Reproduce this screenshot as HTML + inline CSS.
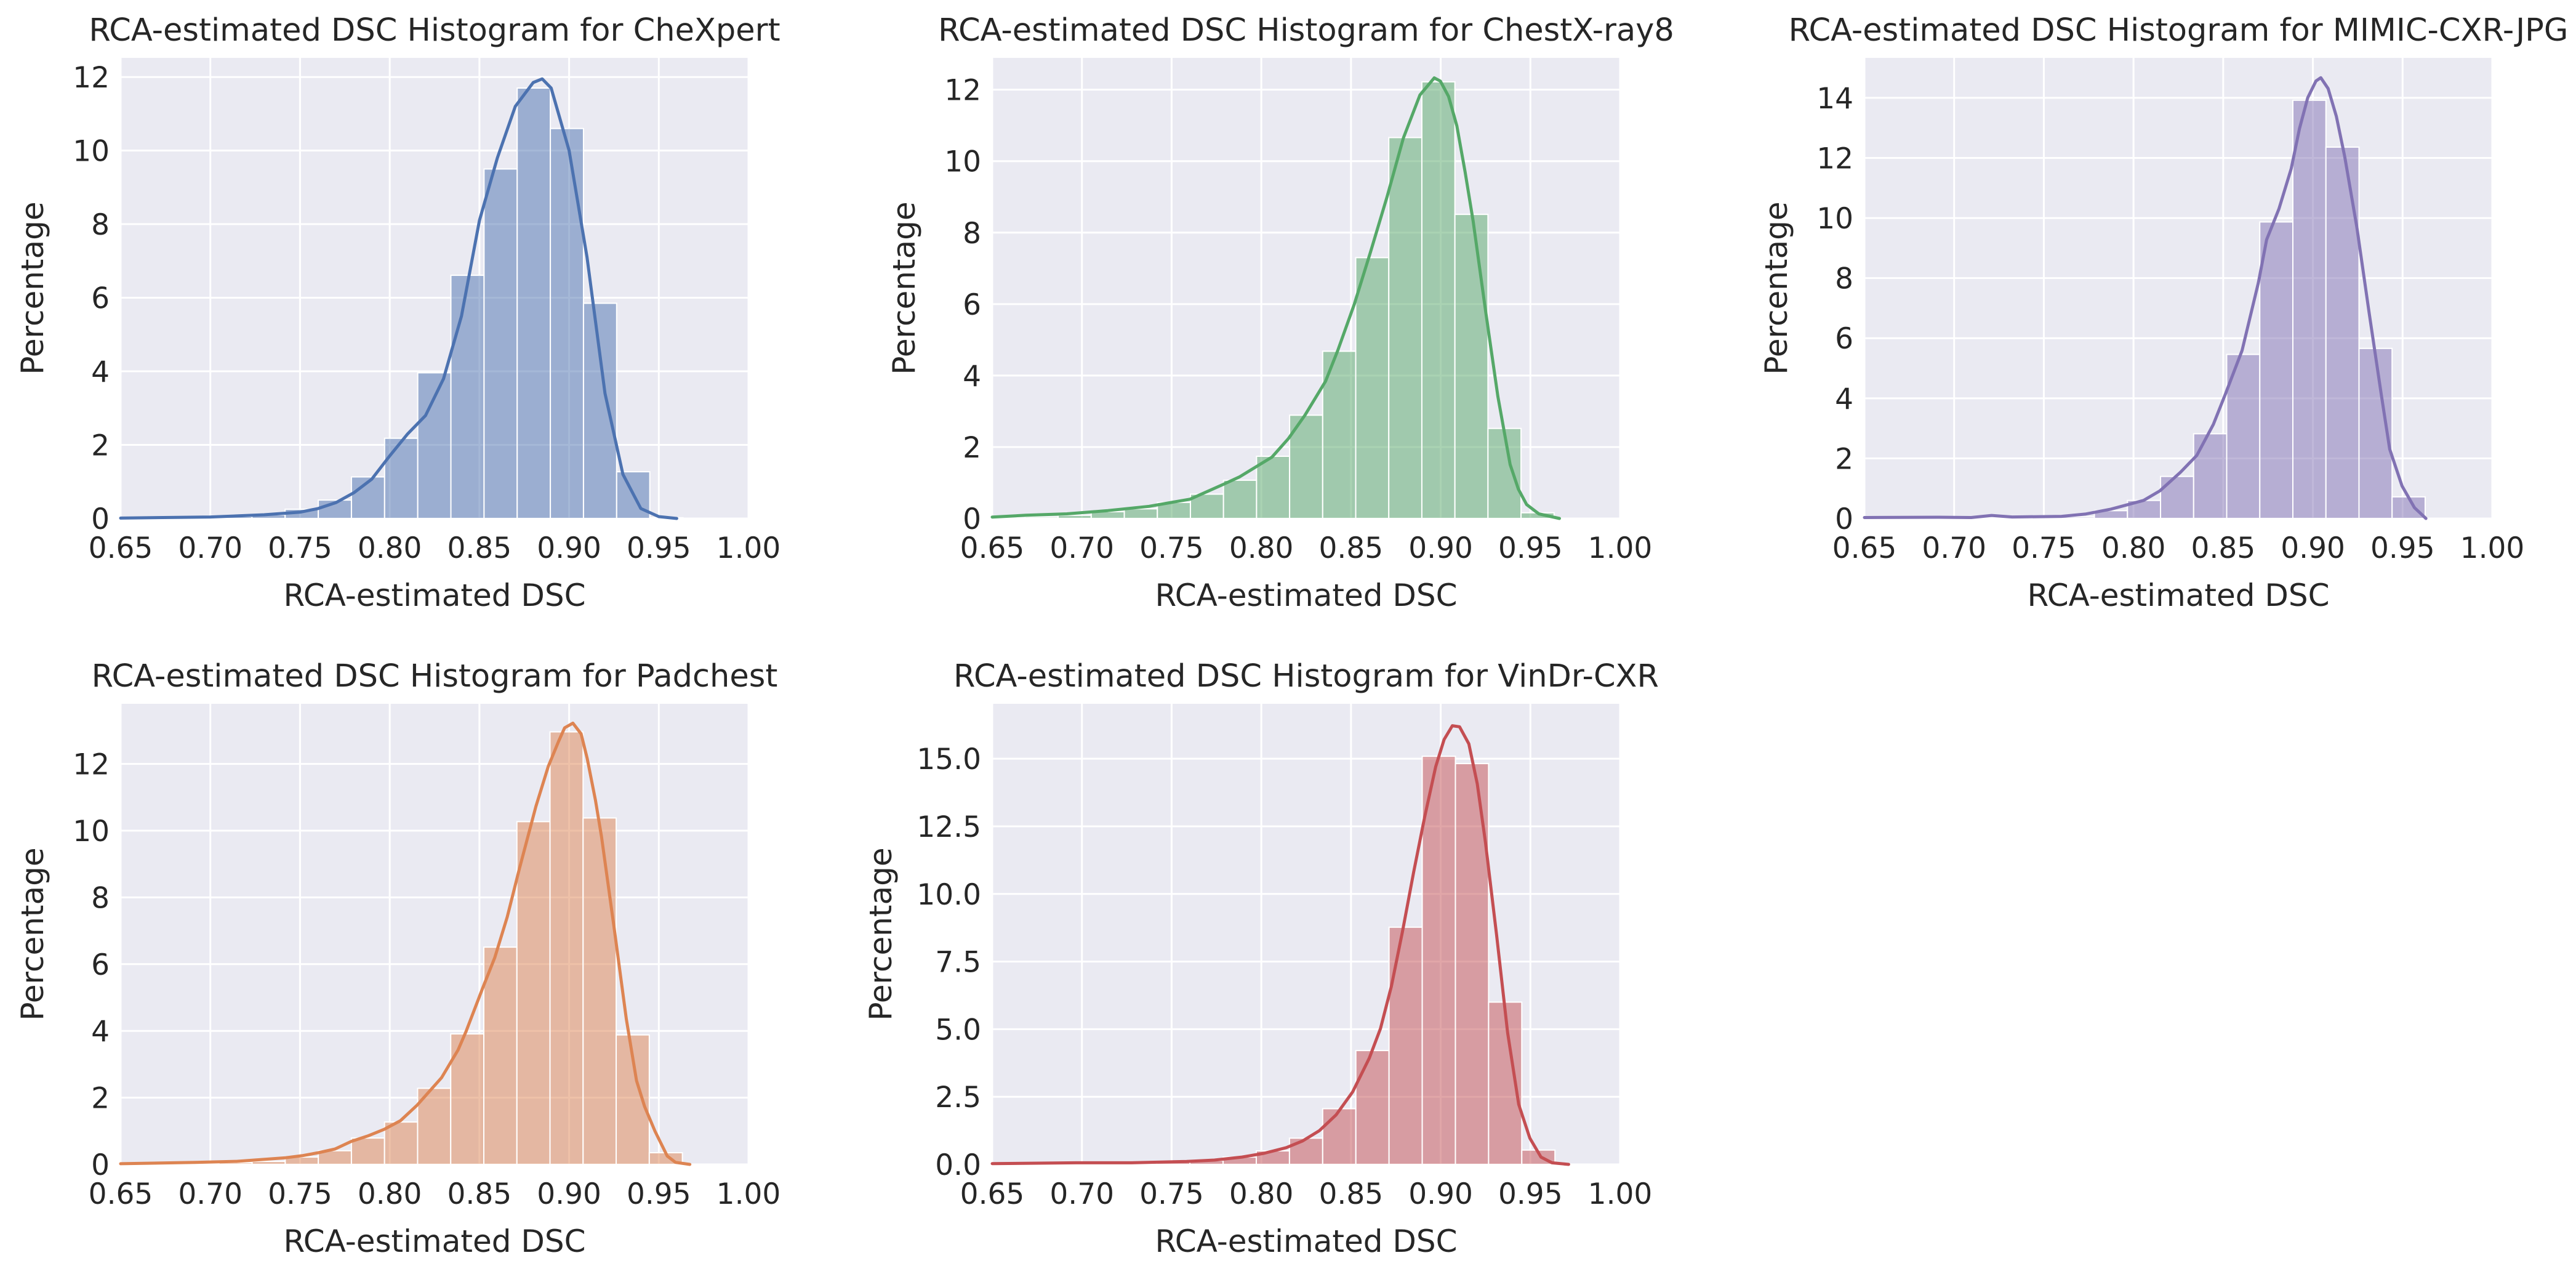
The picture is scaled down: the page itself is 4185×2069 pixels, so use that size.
<!DOCTYPE html>
<html><head><meta charset="utf-8"><style>
html,body{margin:0;padding:0;background:#fff;}
svg{display:block;font-family:"DejaVu Sans","Liberation Sans",sans-serif;}
</style></head><body>
<svg id="fig" width="4185" height="2069" viewBox="0 0 4185 2069" xmlns="http://www.w3.org/2000/svg"></svg>
<script>
// ---- data ----
const panelNames = ["CheXpert","ChestX-ray8","MIMIC-CXR-JPG","Padchest","VinDr-CXR"];
const panelColors = ["#4c72b0","#55a868","#8172b3","#dd8452","#c44e52"];
const binStarts = [0.6493,0.6499,0.6491,0.6495,0.6492];
const binWidths = [0.01848,0.01843,0.01844,0.01845,0.0185];
const heightsCheXpert = [0.01,0.02,0.03,0.05,0.1,0.25,0.5,1.13,2.18,3.96,6.61,9.5,11.7,10.6,5.85,1.27,0.02];
const heightsChestXray8 = [0.02,0.04,0.09,0.19,0.27,0.45,0.68,1.07,1.74,2.89,4.68,7.3,10.66,12.22,8.51,2.52,0.16];
const heightsMimic = [0.02,0.02,0.02,0.03,0.02,0.03,0.05,0.26,0.6,1.4,2.82,5.46,9.87,13.92,12.36,5.66,0.72];
const heightsPadchest = [0.01,0.02,0.03,0.05,0.09,0.22,0.41,0.79,1.27,2.28,3.91,6.51,10.27,12.96,10.38,3.88,0.35];
const heightsVinDr = [0.02,0.03,0.04,0.05,0.06,0.08,0.14,0.27,0.5,0.97,2.06,4.21,8.77,15.09,14.82,6.0,0.53];
const kdeXCheXpert = [0.65,0.70,0.73,0.75,0.76,0.77,0.78,0.79,0.80,0.81,0.82,0.83,0.84,0.85,0.86,0.87,0.88,0.885,0.89,0.90,0.91,0.92,0.93,0.94,0.95,0.96];
const kdeYCheXpert = [0.01,0.04,0.1,0.17,0.27,0.43,0.7,1.07,1.7,2.3,2.8,3.8,5.5,8.1,9.8,11.2,11.85,11.95,11.7,10.0,7.1,3.4,1.2,0.27,0.05,0];
const kdeXChestXray8 = [0.65,0.6688,0.6916,0.7145,0.7374,0.7511,0.7603,0.7786,0.7877,0.806,0.8152,0.8243,0.8358,0.8426,0.8518,0.8609,0.8701,0.8792,0.8884,0.8964,0.8998,0.9044,0.909,0.9136,0.9181,0.925,0.9319,0.9387,0.9433,0.9479,0.9547,0.9662];
const kdeYChestXray8 = [0.04,0.09,0.13,0.22,0.34,0.46,0.54,0.95,1.16,1.72,2.24,2.89,3.84,4.7,5.99,7.46,9.0,10.65,11.85,12.33,12.24,11.81,10.99,9.7,8.32,5.82,3.41,1.51,0.82,0.39,0.13,0];
const kdeXMimic = [0.65,0.6912,0.7095,0.7209,0.7324,0.7598,0.7735,0.7873,0.8056,0.8147,0.8262,0.8353,0.8445,0.8513,0.8605,0.8696,0.8742,0.8811,0.8879,0.8925,0.8971,0.9017,0.9044,0.9085,0.9131,0.9177,0.9245,0.9314,0.9383,0.9428,0.9497,0.9566,0.963];
const kdeYMimic = [0.03,0.04,0.03,0.1,0.05,0.07,0.15,0.31,0.6,0.92,1.54,2.1,3.13,4.15,5.59,7.85,9.28,10.31,11.64,12.97,14.0,14.56,14.67,14.31,13.38,12.05,9.69,6.82,4.05,2.31,1.08,0.36,0];
const kdeXPadchest = [0.65,0.6916,0.7145,0.742,0.7511,0.7603,0.7694,0.7786,0.7877,0.7969,0.806,0.8152,0.8289,0.8381,0.8426,0.8518,0.8586,0.8655,0.8724,0.8815,0.8884,0.8941,0.8975,0.9021,0.9067,0.9101,0.9147,0.9181,0.925,0.9319,0.9376,0.9421,0.9479,0.9547,0.9593,0.9673];
const kdeYPadchest = [0.02,0.06,0.09,0.2,0.26,0.35,0.46,0.69,0.85,1.05,1.31,1.77,2.6,3.43,3.99,5.28,6.2,7.41,8.88,10.73,11.93,12.67,13.08,13.22,12.9,12.16,10.91,9.81,7.13,4.36,2.51,1.73,0.99,0.25,0.06,0];
const kdeXVinDr = [0.65,0.6966,0.7275,0.7583,0.7738,0.7892,0.8015,0.8139,0.8231,0.8324,0.8417,0.8509,0.8602,0.8664,0.8725,0.8787,0.8849,0.891,0.8972,0.9019,0.9065,0.9105,0.9157,0.9204,0.925,0.9312,0.9373,0.9435,0.9497,0.9559,0.962,0.9713];
const kdeYVinDr = [0.03,0.06,0.06,0.11,0.16,0.27,0.41,0.62,0.87,1.25,1.83,2.68,3.93,5.02,6.58,8.61,10.8,12.82,14.7,15.71,16.22,16.18,15.55,14.07,11.89,8.46,4.87,2.22,0.97,0.27,0.06,0];
const xTicks = [0.65,0.70,0.75,0.80,0.85,0.90,0.95,1.00];
const xTickLabels = ["0.65","0.70","0.75","0.80","0.85","0.90","0.95","1.00"];
const yTicksA = [0,2,4,6,8,10,12];
const yTicksB = [0,2,4,6,8,10,12,14];
const yTicksC = [0,2.5,5,7.5,10,12.5,15];
const yTickLabelsC = ["0.0","2.5","5.0","7.5","10.0","12.5","15.0"];
const yMaxes = [12.52,12.89,15.33,13.8,17.03];

const allHeights = [heightsCheXpert,heightsChestXray8,heightsMimic,heightsPadchest,heightsVinDr];
const allKdeX = [kdeXCheXpert,kdeXChestXray8,kdeXMimic,kdeXPadchest,kdeXVinDr];
const allKdeY = [kdeYCheXpert,kdeYChestXray8,kdeYMimic,kdeYPadchest,kdeYVinDr];
const allYTicks = [yTicksA,yTicksA,yTicksB,yTicksA,yTicksC];
const allYLabels = [yTicksA.map(String),yTicksA.map(String),yTicksB.map(String),yTicksA.map(String),yTickLabelsC];

// ---- layout ----
const lefts = [196,1612,3029,196,1612];
const tops = [94,94,94,1143,1143];
const W = 1020, H = 748;
const NS = "http://www.w3.org/2000/svg";
const fig = document.getElementById('fig');
function mk(tag, attrs, parent){
  const e = document.createElementNS(NS, tag);
  for (const k in attrs) e.setAttribute(k, attrs[k]);
  (parent||fig).appendChild(e);
  return e;
}
for (let p = 0; p < 5; p++) {
  const L = lefts[p], T = tops[p];
  const xs = v => L + (v - 0.65) / 0.35 * W;
  const ys = v => T + H - v / yMaxes[p] * H;
  const g = mk('g', {});
  
  
  const bg = mk('rect', {x:L, y:T, width:W, height:H, fill:'#eaeaf2'}, g);
  
  
  xTicks.forEach((t, i) => {
    const gl = mk('line', {x1:xs(t), x2:xs(t), y1:T, y2:T+H, stroke:'#fff', 'stroke-width':3}, g);
    
    
    const tl = mk('text', {x:xs(t), y:T+H+64, 'font-size':47, fill:'#262626', 'text-anchor':'middle'}, g);
    tl.textContent = xTickLabels[i];
    
    
  });
  allYTicks[p].forEach((t, i) => {
    const gl = mk('line', {x1:L, x2:L+W, y1:ys(t), y2:ys(t), stroke:'#fff', 'stroke-width':3}, g);
    
    
    const tl = mk('text', {x:L-18, y:ys(t)+17, 'font-size':47, fill:'#262626', 'text-anchor':'end'}, g);
    tl.textContent = allYLabels[p][i];
    
    
  });
  const hs = allHeights[p];
  hs.forEach((h, i) => {
    const x0 = binStarts[p] + i * binWidths[p];
    const x1 = x0 + binWidths[p];
    const a = Math.max(xs(x0), L), b = Math.min(xs(x1), L + W);
    if (b <= a) return;
    const r = mk('rect', {x:a, y:ys(h), width:b-a, height:ys(0)-ys(h), fill:panelColors[p], 'fill-opacity':0.5, stroke:'#fff', 'stroke-width':2}, g);
    
    
  });
  const kx = allKdeX[p], ky = allKdeY[p];
  const pts = kx.map((v, i) => xs(v).toFixed(1) + ',' + ys(ky[i]).toFixed(1)).join(' ');
  const pl = mk('polyline', {points:pts, fill:'none', stroke:panelColors[p], 'stroke-width':5, 'stroke-linejoin':'round', 'stroke-linecap':'round'}, g);
  
  
  const ti = mk('text', {x:L+W/2, y:T-28, 'font-size':51, fill:'#262626', 'text-anchor':'middle'}, g);
  ti.textContent = 'RCA-estimated DSC Histogram for ' + panelNames[p];
  
  
  const xl = mk('text', {x:L+W/2, y:T+H+142, 'font-size':50, fill:'#262626', 'text-anchor':'middle'}, g);
  xl.textContent = 'RCA-estimated DSC';
  
  
  const yx = (p === 4) ? L - 164 : L - 126;
  const yl = mk('text', {x:yx, y:T+H/2, 'font-size':50, fill:'#262626', 'text-anchor':'middle', transform:'rotate(-90 ' + yx + ' ' + (T+H/2) + ')'}, g);
  yl.textContent = 'Percentage';
  
  
}
</script>
</body></html>
